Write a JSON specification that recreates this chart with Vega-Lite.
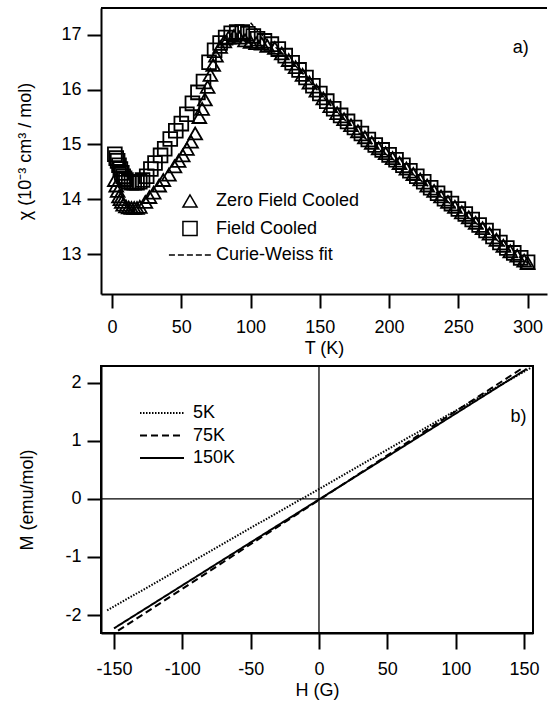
{
  "$schema": "https://vega.github.io/schema/vega-lite/v6.json",
  "padding": {"left": 16, "top": 7, "right": 0, "bottom": 2},
  "spacing": 5,
  "resolve": {"legend": {"shape": "independent", "strokeDash": "independent"}},
  "config": {
    "font": "Liberation Sans",
    "axis": {"labelFont": "Liberation Sans", "labelFontSize": 18, "labelColor": "black", "titleFont": "Liberation Sans", "titleFontSize": 18, "titleFontWeight": "normal", "titleColor": "black", "domainColor": "black", "domainWidth": 2, "tickColor": "black", "tickWidth": 2, "tickSize": 14, "grid": false, "labelPadding": 6, "labelExpr": "'' + datum.value"},
    "view": {"stroke": "black", "strokeWidth": 2},
    "text": {"font": "Liberation Sans", "fontSize": 18, "color": "black"}
  },
  "datasets": {
    "chi": [
      {"T": 2, "chi": 14.82, "series": "Field Cooled"},
      {"T": 3, "chi": 14.75, "series": "Field Cooled"},
      {"T": 4, "chi": 14.7, "series": "Field Cooled"},
      {"T": 5, "chi": 14.62, "series": "Field Cooled"},
      {"T": 6, "chi": 14.55, "series": "Field Cooled"},
      {"T": 7, "chi": 14.48, "series": "Field Cooled"},
      {"T": 8, "chi": 14.42, "series": "Field Cooled"},
      {"T": 9, "chi": 14.38, "series": "Field Cooled"},
      {"T": 10, "chi": 14.35, "series": "Field Cooled"},
      {"T": 12, "chi": 14.32, "series": "Field Cooled"},
      {"T": 14, "chi": 14.3, "series": "Field Cooled"},
      {"T": 16, "chi": 14.3, "series": "Field Cooled"},
      {"T": 18, "chi": 14.3, "series": "Field Cooled"},
      {"T": 20, "chi": 14.32, "series": "Field Cooled"},
      {"T": 22, "chi": 14.35, "series": "Field Cooled"},
      {"T": 25, "chi": 14.42, "series": "Field Cooled"},
      {"T": 28, "chi": 14.55, "series": "Field Cooled"},
      {"T": 31, "chi": 14.66, "series": "Field Cooled"},
      {"T": 35, "chi": 14.8, "series": "Field Cooled"},
      {"T": 38, "chi": 14.92, "series": "Field Cooled"},
      {"T": 42, "chi": 15.1, "series": "Field Cooled"},
      {"T": 46, "chi": 15.25, "series": "Field Cooled"},
      {"T": 50, "chi": 15.38, "series": "Field Cooled"},
      {"T": 54, "chi": 15.55, "series": "Field Cooled"},
      {"T": 58, "chi": 15.75, "series": "Field Cooled"},
      {"T": 62, "chi": 15.95, "series": "Field Cooled"},
      {"T": 66, "chi": 16.15, "series": "Field Cooled"},
      {"T": 70, "chi": 16.5, "series": "Field Cooled"},
      {"T": 74, "chi": 16.72, "series": "Field Cooled"},
      {"T": 78, "chi": 16.85, "series": "Field Cooled"},
      {"T": 82, "chi": 16.95, "series": "Field Cooled"},
      {"T": 86, "chi": 17.03, "series": "Field Cooled"},
      {"T": 90, "chi": 17.05, "series": "Field Cooled"},
      {"T": 94, "chi": 17.05, "series": "Field Cooled"},
      {"T": 98, "chi": 17.02, "series": "Field Cooled"},
      {"T": 102, "chi": 16.98, "series": "Field Cooled"},
      {"T": 105, "chi": 16.93, "series": "Field Cooled"},
      {"T": 110, "chi": 16.89, "series": "Field Cooled"},
      {"T": 115, "chi": 16.83, "series": "Field Cooled"},
      {"T": 120, "chi": 16.74, "series": "Field Cooled"},
      {"T": 125, "chi": 16.62, "series": "Field Cooled"},
      {"T": 130, "chi": 16.49, "series": "Field Cooled"},
      {"T": 135, "chi": 16.36, "series": "Field Cooled"},
      {"T": 140, "chi": 16.22, "series": "Field Cooled"},
      {"T": 145, "chi": 16.07, "series": "Field Cooled"},
      {"T": 150, "chi": 15.93, "series": "Field Cooled"},
      {"T": 155, "chi": 15.79, "series": "Field Cooled"},
      {"T": 160, "chi": 15.65, "series": "Field Cooled"},
      {"T": 165, "chi": 15.53, "series": "Field Cooled"},
      {"T": 170, "chi": 15.42, "series": "Field Cooled"},
      {"T": 175, "chi": 15.31, "series": "Field Cooled"},
      {"T": 180, "chi": 15.2, "series": "Field Cooled"},
      {"T": 185, "chi": 15.09, "series": "Field Cooled"},
      {"T": 190, "chi": 14.99, "series": "Field Cooled"},
      {"T": 195, "chi": 14.9, "series": "Field Cooled"},
      {"T": 200, "chi": 14.81, "series": "Field Cooled"},
      {"T": 205, "chi": 14.72, "series": "Field Cooled"},
      {"T": 210, "chi": 14.62, "series": "Field Cooled"},
      {"T": 215, "chi": 14.52, "series": "Field Cooled"},
      {"T": 220, "chi": 14.42, "series": "Field Cooled"},
      {"T": 225, "chi": 14.32, "series": "Field Cooled"},
      {"T": 230, "chi": 14.21, "series": "Field Cooled"},
      {"T": 235, "chi": 14.11, "series": "Field Cooled"},
      {"T": 240, "chi": 14.01, "series": "Field Cooled"},
      {"T": 245, "chi": 13.92, "series": "Field Cooled"},
      {"T": 250, "chi": 13.82, "series": "Field Cooled"},
      {"T": 255, "chi": 13.73, "series": "Field Cooled"},
      {"T": 260, "chi": 13.63, "series": "Field Cooled"},
      {"T": 265, "chi": 13.53, "series": "Field Cooled"},
      {"T": 270, "chi": 13.43, "series": "Field Cooled"},
      {"T": 275, "chi": 13.32, "series": "Field Cooled"},
      {"T": 280, "chi": 13.21, "series": "Field Cooled"},
      {"T": 285, "chi": 13.11, "series": "Field Cooled"},
      {"T": 290, "chi": 13.02, "series": "Field Cooled"},
      {"T": 295, "chi": 12.93, "series": "Field Cooled"},
      {"T": 300, "chi": 12.85, "series": "Field Cooled"},
      {"T": 2, "chi": 14.35, "series": "Zero Field Cooled"},
      {"T": 3, "chi": 14.25, "series": "Zero Field Cooled"},
      {"T": 4, "chi": 14.15, "series": "Zero Field Cooled"},
      {"T": 5, "chi": 14.05, "series": "Zero Field Cooled"},
      {"T": 6, "chi": 14.0, "series": "Zero Field Cooled"},
      {"T": 7, "chi": 13.95, "series": "Zero Field Cooled"},
      {"T": 8, "chi": 13.9, "series": "Zero Field Cooled"},
      {"T": 10, "chi": 13.87, "series": "Zero Field Cooled"},
      {"T": 12, "chi": 13.85, "series": "Zero Field Cooled"},
      {"T": 14, "chi": 13.84, "series": "Zero Field Cooled"},
      {"T": 16, "chi": 13.84, "series": "Zero Field Cooled"},
      {"T": 18, "chi": 13.84, "series": "Zero Field Cooled"},
      {"T": 20, "chi": 13.86, "series": "Zero Field Cooled"},
      {"T": 24, "chi": 13.95, "series": "Zero Field Cooled"},
      {"T": 27, "chi": 14.04, "series": "Zero Field Cooled"},
      {"T": 30, "chi": 14.12, "series": "Zero Field Cooled"},
      {"T": 34, "chi": 14.25, "series": "Zero Field Cooled"},
      {"T": 37, "chi": 14.35, "series": "Zero Field Cooled"},
      {"T": 41, "chi": 14.45, "series": "Zero Field Cooled"},
      {"T": 45, "chi": 14.6, "series": "Zero Field Cooled"},
      {"T": 48, "chi": 14.7, "series": "Zero Field Cooled"},
      {"T": 51, "chi": 14.8, "series": "Zero Field Cooled"},
      {"T": 54, "chi": 14.92, "series": "Zero Field Cooled"},
      {"T": 57, "chi": 15.05, "series": "Zero Field Cooled"},
      {"T": 60, "chi": 15.2, "series": "Zero Field Cooled"},
      {"T": 63, "chi": 15.5, "series": "Zero Field Cooled"},
      {"T": 65, "chi": 15.65, "series": "Zero Field Cooled"},
      {"T": 67, "chi": 15.82, "series": "Zero Field Cooled"},
      {"T": 69, "chi": 16.05, "series": "Zero Field Cooled"},
      {"T": 71, "chi": 16.27, "series": "Zero Field Cooled"},
      {"T": 73, "chi": 16.45, "series": "Zero Field Cooled"},
      {"T": 75, "chi": 16.62, "series": "Zero Field Cooled"},
      {"T": 78, "chi": 16.78, "series": "Zero Field Cooled"},
      {"T": 81, "chi": 16.88, "series": "Zero Field Cooled"},
      {"T": 84, "chi": 16.95, "series": "Zero Field Cooled"},
      {"T": 88, "chi": 16.98, "series": "Zero Field Cooled"},
      {"T": 92, "chi": 16.95, "series": "Zero Field Cooled"},
      {"T": 96, "chi": 16.9, "series": "Zero Field Cooled"},
      {"T": 100, "chi": 16.87, "series": "Zero Field Cooled"},
      {"T": 104, "chi": 16.85, "series": "Zero Field Cooled"},
      {"T": 108, "chi": 16.84, "series": "Zero Field Cooled"},
      {"T": 112, "chi": 16.8, "series": "Zero Field Cooled"},
      {"T": 117.5, "chi": 16.76, "series": "Zero Field Cooled"},
      {"T": 122.5, "chi": 16.66, "series": "Zero Field Cooled"},
      {"T": 127.5, "chi": 16.54, "series": "Zero Field Cooled"},
      {"T": 132.5, "chi": 16.41, "series": "Zero Field Cooled"},
      {"T": 137.5, "chi": 16.27, "series": "Zero Field Cooled"},
      {"T": 142.5, "chi": 16.13, "series": "Zero Field Cooled"},
      {"T": 147.5, "chi": 15.98, "series": "Zero Field Cooled"},
      {"T": 152.5, "chi": 15.84, "series": "Zero Field Cooled"},
      {"T": 157.5, "chi": 15.7, "series": "Zero Field Cooled"},
      {"T": 162.5, "chi": 15.57, "series": "Zero Field Cooled"},
      {"T": 167.5, "chi": 15.46, "series": "Zero Field Cooled"},
      {"T": 172.5, "chi": 15.35, "series": "Zero Field Cooled"},
      {"T": 177.5, "chi": 15.24, "series": "Zero Field Cooled"},
      {"T": 182.5, "chi": 15.13, "series": "Zero Field Cooled"},
      {"T": 187.5, "chi": 15.03, "series": "Zero Field Cooled"},
      {"T": 192.5, "chi": 14.93, "series": "Zero Field Cooled"},
      {"T": 197.5, "chi": 14.84, "series": "Zero Field Cooled"},
      {"T": 202.5, "chi": 14.75, "series": "Zero Field Cooled"},
      {"T": 207.5, "chi": 14.66, "series": "Zero Field Cooled"},
      {"T": 212.5, "chi": 14.56, "series": "Zero Field Cooled"},
      {"T": 217.5, "chi": 14.46, "series": "Zero Field Cooled"},
      {"T": 222.5, "chi": 14.36, "series": "Zero Field Cooled"},
      {"T": 227.5, "chi": 14.25, "series": "Zero Field Cooled"},
      {"T": 232.5, "chi": 14.15, "series": "Zero Field Cooled"},
      {"T": 237.5, "chi": 14.05, "series": "Zero Field Cooled"},
      {"T": 242.5, "chi": 13.95, "series": "Zero Field Cooled"},
      {"T": 247.5, "chi": 13.86, "series": "Zero Field Cooled"},
      {"T": 252.5, "chi": 13.76, "series": "Zero Field Cooled"},
      {"T": 257.5, "chi": 13.67, "series": "Zero Field Cooled"},
      {"T": 262.5, "chi": 13.57, "series": "Zero Field Cooled"},
      {"T": 267.5, "chi": 13.47, "series": "Zero Field Cooled"},
      {"T": 272.5, "chi": 13.37, "series": "Zero Field Cooled"},
      {"T": 277.5, "chi": 13.26, "series": "Zero Field Cooled"},
      {"T": 282.5, "chi": 13.15, "series": "Zero Field Cooled"},
      {"T": 287.5, "chi": 13.05, "series": "Zero Field Cooled"},
      {"T": 292.5, "chi": 12.97, "series": "Zero Field Cooled"},
      {"T": 297.5, "chi": 12.88, "series": "Zero Field Cooled"},
      {"T": 300, "chi": 12.84, "series": "Zero Field Cooled"}
    ],
    "fit": [
      {"T": 100, "chi": 17.22}, {"T": 105, "chi": 17.08}, {"T": 110, "chi": 16.95},
      {"T": 120, "chi": 16.73}, {"T": 130, "chi": 16.5}, {"T": 140, "chi": 16.23},
      {"T": 150, "chi": 15.94}, {"T": 160, "chi": 15.65}, {"T": 170, "chi": 15.4},
      {"T": 180, "chi": 15.17}, {"T": 190, "chi": 14.96}, {"T": 200, "chi": 14.78},
      {"T": 210, "chi": 14.6}, {"T": 220, "chi": 14.4}, {"T": 230, "chi": 14.2},
      {"T": 240, "chi": 14.0}, {"T": 250, "chi": 13.81}, {"T": 260, "chi": 13.62},
      {"T": 270, "chi": 13.42}, {"T": 280, "chi": 13.21}, {"T": 290, "chi": 13.02},
      {"T": 300, "chi": 12.84}
    ],
    "mh": [
      {"H": -155, "M": -1.92, "temp": "5K"},
      {"H": -100, "M": -1.18, "temp": "5K"},
      {"H": -50, "M": -0.5, "temp": "5K"},
      {"H": 0, "M": 0.17, "temp": "5K"},
      {"H": 50, "M": 0.85, "temp": "5K"},
      {"H": 100, "M": 1.52, "temp": "5K"},
      {"H": 155, "M": 2.26, "temp": "5K"},
      {"H": -147, "M": -2.27, "temp": "75K"},
      {"H": -100, "M": -1.55, "temp": "75K"},
      {"H": -50, "M": -0.78, "temp": "75K"},
      {"H": 0, "M": -0.02, "temp": "75K"},
      {"H": 50, "M": 0.75, "temp": "75K"},
      {"H": 100, "M": 1.51, "temp": "75K"},
      {"H": 148, "M": 2.24, "temp": "75K"},
      {"H": -150, "M": -2.23, "temp": "150K"},
      {"H": -100, "M": -1.49, "temp": "150K"},
      {"H": -50, "M": -0.75, "temp": "150K"},
      {"H": 0, "M": -0.01, "temp": "150K"},
      {"H": 50, "M": 0.73, "temp": "150K"},
      {"H": 100, "M": 1.47, "temp": "150K"},
      {"H": 152, "M": 2.24, "temp": "150K"}
    ]
  },
  "vconcat": [
    {
      "width": 446,
      "height": 286,
      "view": {"stroke": null},
      "layer": [
        {
          "data": {"name": "fit"},
          "mark": {"type": "line", "color": "black", "strokeDash": [4, 3], "strokeWidth": 1.5},
          "encoding": {
            "x": {"field": "T", "type": "quantitative", "scale": {"domain": [-8, 314], "nice": false, "zero": false},
                  "axis": {"values": [0, 50, 100, 150, 200, 250, 300], "title": "T (K)", "titlePadding": 3, "labelPadding": 10}},
            "y": {"field": "chi", "type": "quantitative", "scale": {"domain": [12.27, 17.49], "nice": false, "zero": false},
                  "axis": {"values": [13, 14, 15, 16, 17], "title": "χ  (10⁻³ cm³ / mol)", "titlePadding": 26}}
          }
        },
        {
          "data": {"name": "chi"},
          "mark": {"type": "point", "filled": false, "color": "black", "strokeWidth": 1.8, "size": 190, "opacity": 1},
          "encoding": {
            "x": {"field": "T", "type": "quantitative"},
            "y": {"field": "chi", "type": "quantitative"},
            "shape": {
              "field": "series", "type": "nominal",
              "scale": {"domain": ["Zero Field Cooled", "Field Cooled", "Curie-Weiss fit"],
                        "range": ["triangle-up", "square", "M-2.98,0H-2.13M-1.71,0H-0.86M-0.44,0H0.41M0.83,0H1.68M2.1,0H2.95"]},
              "legend": {"orient": "none", "legendX": 80, "legendY": 184, "title": null, "padding": 0,
                         "labelFont": "Liberation Sans", "labelFontSize": 18, "labelColor": "black",
                         "symbolSize": 200, "symbolStrokeWidth": 1.5, "symbolStrokeColor": "black", "symbolFillColor": "transparent",
                         "labelOffset": 17, "rowPadding": 6.5}
            }
          }
        },
        {
          "data": {"values": [{}]},
          "mark": {"type": "rule", "color": "black", "strokeWidth": 2},
          "encoding": {"y": {"datum": 17.49}}
        },
        {
          "data": {"values": [{}]},
          "mark": {"type": "text", "align": "center", "baseline": "middle"},
          "encoding": {"x": {"datum": 295}, "y": {"datum": 16.76}, "text": {"value": "a)"}}
        }
      ]
    },
    {
      "width": 432,
      "height": 267,
      "layer": [
        {
          "data": {"name": "mh"},
          "mark": {"type": "line", "color": "black", "strokeWidth": 2},
          "encoding": {
            "x": {"field": "H", "type": "quantitative", "scale": {"domain": [-159.5, 156.6], "nice": false, "zero": false},
                  "axis": {"values": [-150, -100, -50, 0, 50, 100, 150], "title": "H (G)", "titlePadding": 3, "tickSize": 16, "labelPadding": 11}},
            "y": {"field": "M", "type": "quantitative", "scale": {"domain": [-2.31, 2.29], "nice": false, "zero": false},
                  "axis": {"values": [-2, -1, 0, 1, 2], "title": "M (emu/mol)", "titlePadding": 28}},
            "strokeDash": {
              "field": "temp", "type": "nominal",
              "scale": {"domain": ["5K", "75K", "150K"], "range": [[1.5, 1.5], [7, 4], [1, 0]]},
              "legend": {"orient": "none", "legendX": 52, "legendY": 38, "title": null, "padding": 0,
                         "labelFont": "Liberation Sans", "labelFontSize": 18, "labelColor": "black",
                         "symbolType": "M-4.4,0H4.4", "symbolSize": 100, "symbolStrokeWidth": 2, "symbolStrokeColor": "black", "symbolFillColor": "transparent",
                         "labelOffset": 22, "rowPadding": 4.5}
            }
          }
        },
        {
          "data": {"values": [{}]},
          "mark": {"type": "rule", "color": "black", "strokeWidth": 1.3},
          "encoding": {"x": {"datum": 0}}
        },
        {
          "data": {"values": [{}]},
          "mark": {"type": "rule", "color": "black", "strokeWidth": 1.3},
          "encoding": {"y": {"datum": 0}}
        },
        {
          "data": {"values": [{}]},
          "mark": {"type": "text", "align": "center", "baseline": "middle"},
          "encoding": {"x": {"datum": 146}, "y": {"datum": 1.41}, "text": {"value": "b)"}}
        }
      ]
    }
  ]
}
